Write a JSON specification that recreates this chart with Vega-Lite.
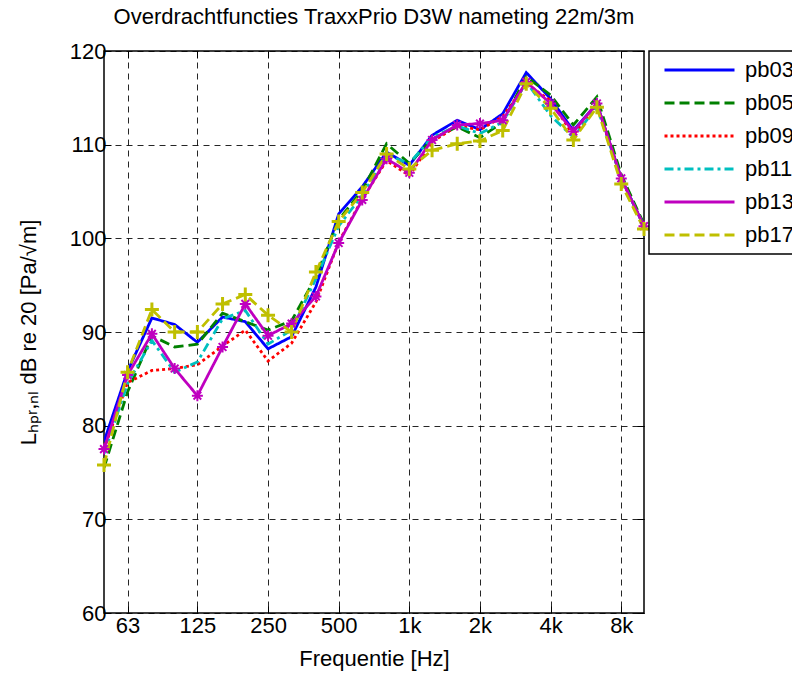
{
  "$schema": "https://vega.github.io/schema/vega-lite/v6.json",
  "width": 540,
  "height": 562,
  "autosize": {"type": "none"},
  "padding": {"left": 104, "top": 51, "right": 148, "bottom": 62},
  "background": "white",
  "title": {"text": "Overdrachtfuncties TraxxPrio D3W nameting 22m/3m", "fontSize": 22, "font": "Liberation Sans", "fontWeight": "normal", "anchor": "middle", "offset": 11, "color": "black"},
  "config": {
    "view": {"stroke": "black", "strokeWidth": 1.5},
    "legend": {"symbolType": "stroke", "symbolSize": 4900, "symbolStrokeWidth": 3, "labelFontSize": 22, "labelFont": "Liberation Sans", "labelColor": "black", "strokeColor": "black", "fillColor": "white", "padding": 8, "rowPadding": 11, "clipHeight": 22, "symbolOffset": 6, "labelOffset": 9, "strokeWidth": 1.5}
  },
  "data": {"values": [
    {"f":50,"series":"pb03","v":78.3},{"f":63,"series":"pb03","v":85.8},{"f":80,"series":"pb03","v":91.5},{"f":100,"series":"pb03","v":90.8},{"f":125,"series":"pb03","v":88.9},{"f":160,"series":"pb03","v":91.6},{"f":200,"series":"pb03","v":91.1},{"f":250,"series":"pb03","v":88.2},{"f":315,"series":"pb03","v":89.5},{"f":400,"series":"pb03","v":94.8},{"f":500,"series":"pb03","v":102.6},{"f":630,"series":"pb03","v":105.5},{"f":800,"series":"pb03","v":109.2},{"f":1000,"series":"pb03","v":107.8},{"f":1250,"series":"pb03","v":111.0},{"f":1600,"series":"pb03","v":112.6},{"f":2000,"series":"pb03","v":111.6},{"f":2500,"series":"pb03","v":113.3},{"f":3150,"series":"pb03","v":117.7},{"f":4000,"series":"pb03","v":114.9},{"f":5000,"series":"pb03","v":111.5},{"f":6300,"series":"pb03","v":114.4},{"f":8000,"series":"pb03","v":106.4},{"f":10000,"series":"pb03","v":101.3},
    {"f":50,"series":"pb05","v":75.5},{"f":63,"series":"pb05","v":83.6},{"f":80,"series":"pb05","v":89.6},{"f":100,"series":"pb05","v":88.4},{"f":125,"series":"pb05","v":88.7},{"f":160,"series":"pb05","v":92.0},{"f":200,"series":"pb05","v":91.1},{"f":250,"series":"pb05","v":90.2},{"f":315,"series":"pb05","v":91.2},{"f":400,"series":"pb05","v":95.9},{"f":500,"series":"pb05","v":102.0},{"f":630,"series":"pb05","v":105.1},{"f":800,"series":"pb05","v":110.1},{"f":1000,"series":"pb05","v":108.0},{"f":1250,"series":"pb05","v":110.6},{"f":1600,"series":"pb05","v":111.9},{"f":2000,"series":"pb05","v":110.75},{"f":2500,"series":"pb05","v":112.4},{"f":3150,"series":"pb05","v":117.25},{"f":4000,"series":"pb05","v":115.3},{"f":5000,"series":"pb05","v":112.1},{"f":6300,"series":"pb05","v":115.1},{"f":8000,"series":"pb05","v":106.8},{"f":10000,"series":"pb05","v":101.5},
    {"f":50,"series":"pb09","v":77.5},{"f":63,"series":"pb09","v":84.6},{"f":80,"series":"pb09","v":85.9},{"f":100,"series":"pb09","v":86.1},{"f":125,"series":"pb09","v":86.5},{"f":160,"series":"pb09","v":88.5},{"f":200,"series":"pb09","v":90.2},{"f":250,"series":"pb09","v":86.9},{"f":315,"series":"pb09","v":88.8},{"f":400,"series":"pb09","v":93.2},{"f":500,"series":"pb09","v":99.6},{"f":630,"series":"pb09","v":104.2},{"f":800,"series":"pb09","v":108.3},{"f":1000,"series":"pb09","v":106.7},{"f":1250,"series":"pb09","v":110.3},{"f":1600,"series":"pb09","v":112.0},{"f":2000,"series":"pb09","v":111.6},{"f":2500,"series":"pb09","v":113.0},{"f":3150,"series":"pb09","v":116.5},{"f":4000,"series":"pb09","v":114.7},{"f":5000,"series":"pb09","v":111.0},{"f":6300,"series":"pb09","v":114.3},{"f":8000,"series":"pb09","v":106.4},{"f":10000,"series":"pb09","v":101.3},
    {"f":50,"series":"pb11","v":77.0},{"f":63,"series":"pb11","v":84.5},{"f":80,"series":"pb11","v":89.1},{"f":100,"series":"pb11","v":85.7},{"f":125,"series":"pb11","v":86.8},{"f":160,"series":"pb11","v":91.4},{"f":200,"series":"pb11","v":92.3},{"f":250,"series":"pb11","v":88.7},{"f":315,"series":"pb11","v":90.2},{"f":400,"series":"pb11","v":95.7},{"f":500,"series":"pb11","v":101.3},{"f":630,"series":"pb11","v":104.6},{"f":800,"series":"pb11","v":108.9},{"f":1000,"series":"pb11","v":108.0},{"f":1250,"series":"pb11","v":110.8},{"f":1600,"series":"pb11","v":112.0},{"f":2000,"series":"pb11","v":111.2},{"f":2500,"series":"pb11","v":112.4},{"f":3150,"series":"pb11","v":116.7},{"f":4000,"series":"pb11","v":113.1},{"f":5000,"series":"pb11","v":110.8},{"f":6300,"series":"pb11","v":114.0},{"f":8000,"series":"pb11","v":106.4},{"f":10000,"series":"pb11","v":101.3},
    {"f":50,"series":"pb13","v":77.5},{"f":63,"series":"pb13","v":85.4},{"f":80,"series":"pb13","v":89.8},{"f":100,"series":"pb13","v":86.1},{"f":125,"series":"pb13","v":83.2},{"f":160,"series":"pb13","v":88.4},{"f":200,"series":"pb13","v":93.0},{"f":250,"series":"pb13","v":89.6},{"f":315,"series":"pb13","v":90.9},{"f":400,"series":"pb13","v":93.8},{"f":500,"series":"pb13","v":99.5},{"f":630,"series":"pb13","v":104.1},{"f":800,"series":"pb13","v":108.5},{"f":1000,"series":"pb13","v":107.0},{"f":1250,"series":"pb13","v":110.5},{"f":1600,"series":"pb13","v":112.1},{"f":2000,"series":"pb13","v":112.25},{"f":2500,"series":"pb13","v":112.6},{"f":3150,"series":"pb13","v":116.7},{"f":4000,"series":"pb13","v":114.4},{"f":5000,"series":"pb13","v":111.4},{"f":6300,"series":"pb13","v":114.4},{"f":8000,"series":"pb13","v":106.4},{"f":10000,"series":"pb13","v":101.3},
    {"f":50,"series":"pb17","v":75.8},{"f":63,"series":"pb17","v":85.7},{"f":80,"series":"pb17","v":92.4},{"f":100,"series":"pb17","v":90.0},{"f":125,"series":"pb17","v":90.0},{"f":160,"series":"pb17","v":93.0},{"f":200,"series":"pb17","v":94.0},{"f":250,"series":"pb17","v":91.8},{"f":315,"series":"pb17","v":90.0},{"f":400,"series":"pb17","v":96.4},{"f":500,"series":"pb17","v":101.8},{"f":630,"series":"pb17","v":104.9},{"f":800,"series":"pb17","v":109.0},{"f":1000,"series":"pb17","v":107.4},{"f":1250,"series":"pb17","v":109.4},{"f":1600,"series":"pb17","v":110.1},{"f":2000,"series":"pb17","v":110.4},{"f":2500,"series":"pb17","v":111.5},{"f":3150,"series":"pb17","v":116.5},{"f":4000,"series":"pb17","v":113.9},{"f":5000,"series":"pb17","v":110.5},{"f":6300,"series":"pb17","v":114.0},{"f":8000,"series":"pb17","v":105.8},{"f":10000,"series":"pb17","v":101.0}
  ]},
  "encoding": {
    "x": {"field": "f", "type": "quantitative", "scale": {"type": "log", "domain": [50, 10000], "nice": false}},
    "y": {"field": "v", "type": "quantitative", "scale": {"domain": [60, 120], "nice": false, "zero": false}}
  },
  "resolve": {"axis": {"x": "independent", "y": "independent"}},
  "layer": [
    {
      "mark": {"type": "line", "strokeWidth": 2.8, "clip": true},
      "encoding": {
        "x": {"field": "f", "type": "quantitative", "scale": {"type": "log", "domain": [50, 10000], "nice": false},
          "axis": {"values": [63, 125, 250, 500, 1000, 2000, 4000, 8000], "labelExpr": "datum.value >= 1000 ? format(datum.value/1000, 'd') + 'k' : format(datum.value, 'd')", "grid": true, "gridDash": [6, 5], "gridColor": "black", "gridOpacity": 0.85, "tickSize": -7, "tickColor": "black", "domain": false, "labelFontSize": 22, "labelFont": "Liberation Sans", "labelColor": "black", "labelPadding": 9, "labelFlush": false, "labelOverlap": false, "title": "Frequentie [Hz]", "titleFontSize": 22, "titleFont": "Liberation Sans", "titleFontWeight": "normal", "titleColor": "black", "titlePadding": 12}},
        "y": {"field": "v", "type": "quantitative", "scale": {"domain": [60, 120], "nice": false, "zero": false},
          "axis": {"values": [60, 70, 80, 90, 100, 110, 120], "grid": true, "gridDash": [6, 5], "gridColor": "black", "gridOpacity": 0.85, "tickSize": -7, "tickColor": "black", "domain": false, "labelFontSize": 22, "labelFont": "Liberation Sans", "labelColor": "black", "labelPadding": 5, "title": "Lₕₚᵣ,ₙₗ dB re 20 [Pa/√m]", "titleFontSize": 22, "titleFont": "Liberation Sans", "titleFontWeight": "normal", "titleColor": "black", "titlePadding": 29}},
        "color": {"field": "series", "type": "nominal", "scale": {"domain": ["pb03", "pb05", "pb09", "pb11", "pb13", "pb17"], "range": ["#0000FF", "#008000", "#FF0000", "#00BFBF", "#BF00BF", "#BFBF00"]},
          "legend": {"title": null, "orient": "none", "legendX": 545, "legendY": 0}},
        "strokeDash": {"field": "series", "type": "nominal", "scale": {"domain": ["pb03", "pb05", "pb09", "pb11", "pb13", "pb17"], "range": [[1, 0], [10, 5], [3, 3], [9, 4, 3, 4], [1, 0], [10, 5]]},
          "legend": {"title": null, "orient": "none", "legendX": 545, "legendY": 0}}
      }
    },
    {
      "transform": [{"filter": "datum.series == 'pb13'"}],
      "mark": {"type": "point", "shape": "M-1,0L1,0M0,-1L0,1M-0.7,-0.7L0.7,0.7M-0.7,0.7L0.7,-0.7", "filled": false, "stroke": "#BF00BF", "strokeWidth": 2, "size": 121, "opacity": 1},
      "encoding": {
        "x": {"field": "f", "type": "quantitative", "axis": {"orient": "top", "labels": false, "title": null, "grid": false, "domain": false, "tickSize": -7, "tickColor": "black", "values": [63, 125, 250, 500, 1000, 2000, 4000, 8000]}},
        "y": {"field": "v", "type": "quantitative", "axis": {"orient": "right", "labels": false, "title": null, "grid": false, "domain": false, "tickSize": -7, "tickColor": "black", "values": [60, 70, 80, 90, 100, 110, 120]}}
      }
    },
    {
      "transform": [{"filter": "datum.series == 'pb17'"}],
      "mark": {"type": "point", "shape": "M-1,0L1,0M0,-1L0,1", "filled": false, "stroke": "#BFBF00", "strokeWidth": 3, "size": 196, "opacity": 1},
      "encoding": {
        "x": {"field": "f", "type": "quantitative", "axis": null},
        "y": {"field": "v", "type": "quantitative", "axis": null}
      }
    }
  ]
}
